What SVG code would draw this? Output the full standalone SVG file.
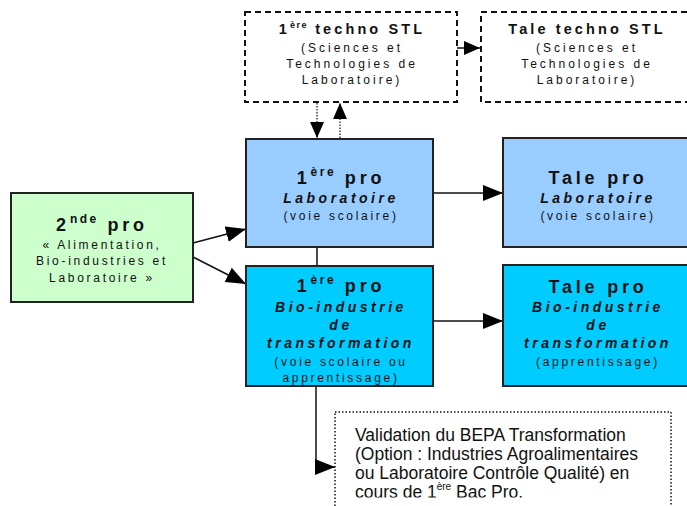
<svg xmlns="http://www.w3.org/2000/svg" width="687" height="506" viewBox="0 0 687 506">
<defs>
<style>
text{font-family:"Liberation Sans",Arial,sans-serif;fill:#111;text-anchor:middle}
.t{font-size:14.5px;font-weight:bold;letter-spacing:3.1px}
.s{font-size:12px;letter-spacing:3px}
.h{font-size:18px;font-weight:bold;letter-spacing:3.8px}
.i{font-size:14px;font-weight:bold;font-style:italic;letter-spacing:3.5px}
.v{font-size:12px;letter-spacing:2.7px}
.b{font-size:17.5px;text-anchor:start;letter-spacing:0}
.dash{fill:#fff;stroke:#111;stroke-width:2;stroke-dasharray:6 4}
.box{stroke:#222;stroke-width:2}
.ln{stroke:#111;stroke-width:1.5;fill:none}
.dot{stroke:#111;stroke-width:1.2;stroke-dasharray:1.5 1.5;fill:none}
</style>
<marker id="ah" markerUnits="userSpaceOnUse" markerWidth="20" markerHeight="16" refX="20" refY="8" orient="auto">
<path d="M0,0 L20,8 L0,16 Z" fill="#000"/>
</marker>
<marker id="ahs" markerUnits="userSpaceOnUse" markerWidth="16" markerHeight="14" refX="16" refY="7" orient="auto">
<path d="M0,0 L16,7 L0,14 Z" fill="#000"/>
</marker>
<clipPath id="clipb"><rect x="335" y="412" width="340" height="85.5"/></clipPath>
</defs>

<g id="connectors">
<line class="ln" x1="457" y1="48" x2="480" y2="48" marker-end="url(#ahs)"/>
<line class="dot" x1="317" y1="103" x2="317" y2="138" marker-end="url(#ahs)"/>
<line class="dot" x1="340" y1="138" x2="340" y2="103" marker-end="url(#ahs)"/>
<line class="ln" x1="193" y1="243" x2="246" y2="229" marker-end="url(#ah)"/>
<line class="ln" x1="193" y1="257" x2="246" y2="284" marker-end="url(#ah)"/>
<line class="ln" x1="317" y1="247" x2="317" y2="266"/>
<line class="ln" x1="433" y1="193" x2="503" y2="193" marker-end="url(#ah)"/>
<line class="ln" x1="433" y1="321" x2="503" y2="321" marker-end="url(#ah)"/>
<polyline class="ln" points="316,386 316,467 335,467" marker-end="url(#ah)"/>
</g>

<g id="n-1ere-stl">
<rect class="dash" x="245" y="12" width="212" height="90"/>
<text class="t" x="352" y="34">1<tspan font-size="9" dy="-6" letter-spacing="1.5">ère</tspan><tspan dy="6"> techno STL</tspan></text>
<text class="s" x="352" y="52">(Sciences et</text>
<text class="s" x="352" y="68">Technologies de</text>
<text class="s" x="352" y="84">Laboratoire)</text>
</g>

<g id="n-tale-stl">
<rect class="dash" x="481" y="12" width="220" height="90"/>
<text class="t" x="587" y="34">Tale techno STL</text>
<text class="s" x="587" y="52">(Sciences et</text>
<text class="s" x="587" y="68">Technologies de</text>
<text class="s" x="587" y="84">Laboratoire)</text>
</g>

<g id="n-2nde">
<rect class="box" x="11" y="193" width="182" height="109" fill="#CCFFCC"/>
<text class="h" x="102" y="231">2<tspan font-size="12" dy="-8" letter-spacing="2.5">nde</tspan><tspan dy="8"> pro</tspan></text>
<text class="v" x="102" y="249">« Alimentation,</text>
<text class="v" x="102" y="265">Bio-industries et</text>
<text class="v" x="102" y="282">Laboratoire »</text>
</g>

<g id="n-1ere-lab">
<rect class="box" x="246" y="139" width="187" height="108" fill="#99CCFF"/>
<text class="h" x="341" y="184">1<tspan font-size="12" dy="-8" letter-spacing="2.5">ère</tspan><tspan dy="8"> pro</tspan></text>
<text class="i" x="341" y="203">Laboratoire</text>
<text class="v" x="341" y="220">(voie scolaire)</text>
</g>

<g id="n-1ere-bio">
<rect class="box" x="246" y="266" width="187" height="120" fill="#00CCFF"/>
<text class="h" x="341" y="292">1<tspan font-size="12" dy="-8" letter-spacing="2.5">ère</tspan><tspan dy="8"> pro</tspan></text>
<text class="i" x="341" y="312">Bio-industrie</text>
<text class="i" x="341" y="330">de</text>
<text class="i" x="341" y="348">transformation</text>
<text class="v" x="341" y="366">(voie scolaire ou</text>
<text class="v" x="341" y="382">apprentissage)</text>
</g>

<g id="n-tale-lab">
<rect class="box" x="503" y="138" width="200" height="109" fill="#99CCFF"/>
<text class="h" x="598" y="184">Tale pro</text>
<text class="i" x="598" y="203">Laboratoire</text>
<text class="v" x="598" y="220">(voie scolaire)</text>
</g>

<g id="n-tale-bio">
<rect class="box" x="503" y="265" width="200" height="121" fill="#00CCFF"/>
<text class="h" x="598" y="293">Tale pro</text>
<text class="i" x="598" y="312">Bio-industrie</text>
<text class="i" x="598" y="330">de</text>
<text class="i" x="598" y="348">transformation</text>
<text class="v" x="598" y="366">(apprentissage)</text>
</g>

<g id="n-bepa">
<rect x="335" y="412" width="336" height="110" fill="#fff" stroke="#111" stroke-width="1.5" stroke-dasharray="1.5 2"/>
<g clip-path="url(#clipb)">
<text class="b" x="355" y="441">Validation du BEPA Transformation</text>
<text class="b" x="355" y="460">(Option : Industries Agroalimentaires</text>
<text class="b" x="355" y="479">ou Laboratoire Contrôle Qualité) en</text>
<text class="b" x="355" y="498">cours de 1<tspan font-size="10" dy="-8">ère</tspan><tspan dy="8"> Bac Pro.</tspan></text>
</g>
</g>
</svg>
